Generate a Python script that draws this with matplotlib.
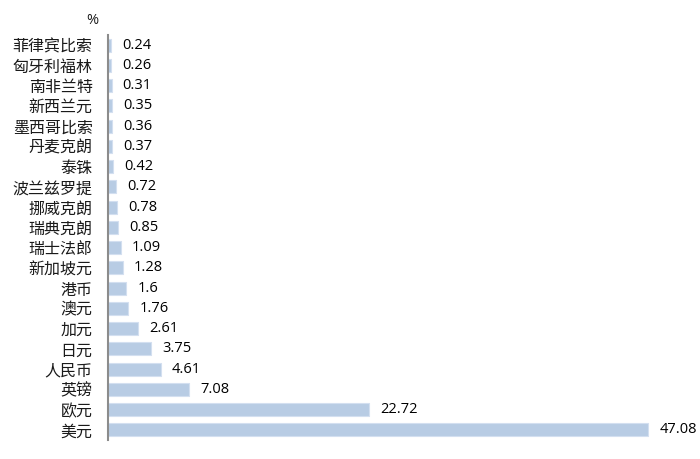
import matplotlib
matplotlib.use('Agg')
import matplotlib.pyplot as plt

plt.rcParams['font.family'] = ['Noto Sans CJK SC', 'DejaVu Sans']

currencies = ['菲律宾比索', '匈牙利福林', '南非兰特', '新西兰元', '墨西哥比索', '丹麦克朗',
              '泰铢', '波兰兹罗提', '挪威克朗', '瑞典克朗', '瑞士法郎', '新加坡元',
              '港币', '澳元', '加元', '日元', '人民币', '英镑', '欧元', '美元']
shares = [0.24, 0.26, 0.31, 0.35, 0.36, 0.37, 0.42, 0.72, 0.78, 0.85, 1.09, 1.28,
          1.6, 1.76, 2.61, 3.75, 4.61, 7.08, 22.72, 47.08]
value_labels = ['0.24', '0.26', '0.31', '0.35', '0.36', '0.37', '0.42', '0.72', '0.78',
                '0.85', '1.09', '1.28', '1.6', '1.76', '2.61', '3.75', '4.61', '7.08',
                '22.72', '47.08']

fig = plt.figure(figsize=(7, 4.59), dpi=100)
ax = fig.add_axes([108 / 700, 19 / 459, 582 / 700, 405 / 459])

pos = list(range(len(currencies)))
ax.barh(pos, shares, height=0.65, color='#B8CCE4', edgecolor='#D3DFF0', linewidth=0.8)

for p, v, t in zip(pos, shares, value_labels):
    ax.annotate(t, xy=(v, p), xytext=(8, 0), textcoords='offset points',
                va='center', ha='left', fontsize=10.5, color='#000000',
                family=['Open Sans', 'DejaVu Sans'])

ax.set_xlim(0, 50.7)
ax.set_ylim(len(currencies) - 0.5, -0.5)
ax.set_yticks(pos)
ax.set_yticklabels(currencies, fontsize=11.5, color='#1a1a1a')
ax.tick_params(axis='y', length=0, pad=11)
ax.set_xticks([])

for s in ['top', 'right', 'bottom']:
    ax.spines[s].set_visible(False)
ax.spines['left'].set_color('#8C8C8C')
ax.spines['left'].set_linewidth(1.5)

fig.text(92 / 700, 1 - 20 / 459, '%', ha='center', va='center', fontsize=10.5,
         color='#1a1a1a', family=['Open Sans', 'DejaVu Sans'])

fig.savefig('out.png', dpi=100)
